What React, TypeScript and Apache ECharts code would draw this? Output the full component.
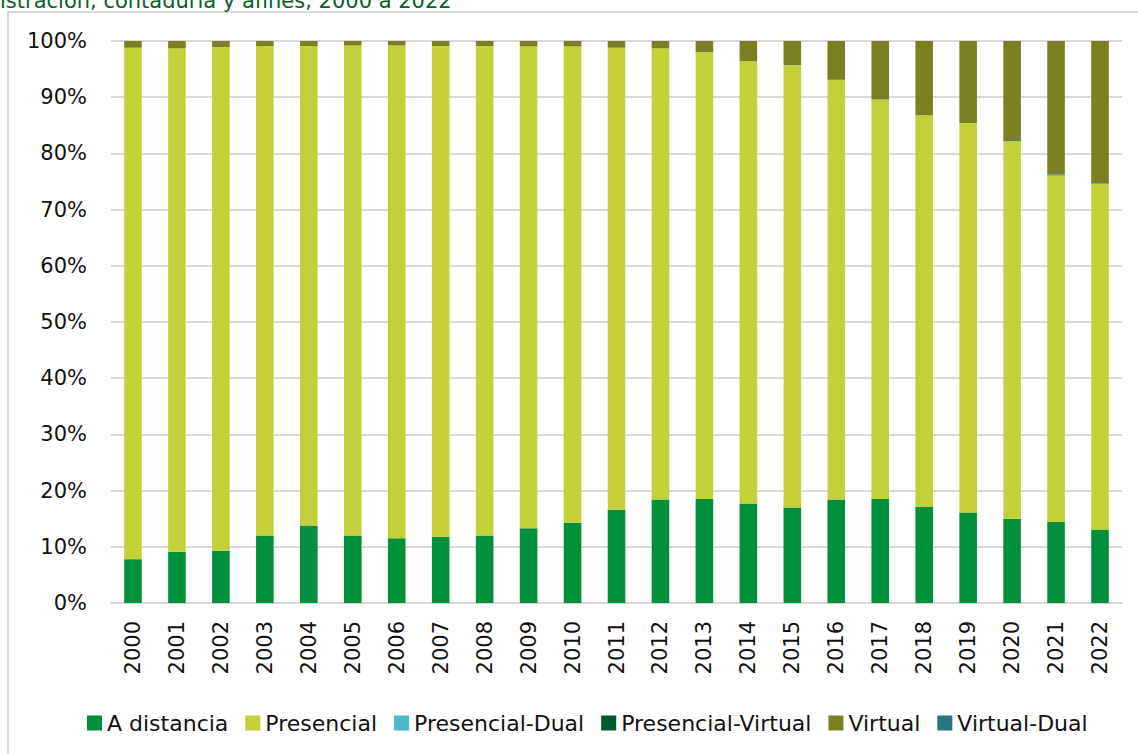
import React, { useEffect, useRef } from "react";
import * as echarts from "echarts";

const years = ["2000","2001","2002","2003","2004","2005","2006","2007","2008","2009","2010","2011","2012","2013","2014","2015","2016","2017","2018","2019","2020","2021","2022"];
const aDistancia = [7.8, 9.1, 9.3, 12.0, 13.8, 12.0, 11.5, 11.8, 12.0, 13.3, 14.3, 16.6, 18.4, 18.5, 17.7, 17.0, 18.4, 18.5, 17.1, 16.1, 15.0, 14.4, 13.1];
const virtual = [1.2, 1.3, 1.1, 0.9, 0.9, 0.8, 0.8, 0.9, 0.9, 0.95, 0.95, 1.2, 1.3, 2.0, 3.6, 4.3, 6.9, 10.4, 13.2, 14.6, 17.8, 23.8, 25.3];
const presencialDual = [0, 0, 0, 0, 0, 0, 0, 0, 0, 0, 0, 0, 0, 0, 0, 0, 0, 0, 0, 0, 0.1, 0.2, 0.15];
const presencialVirtual = [0, 0, 0, 0, 0, 0, 0, 0, 0, 0, 0, 0, 0, 0, 0, 0, 0, 0, 0, 0, 0, 0, 0];
const virtualDual = [0, 0, 0, 0, 0, 0, 0, 0, 0, 0, 0, 0, 0, 0, 0, 0, 0, 0, 0, 0, 0, 0, 0];
const presencial = years.map((_, i) =>
  +(100 - aDistancia[i] - virtual[i] - presencialDual[i] - presencialVirtual[i] - virtualDual[i]).toFixed(2)
);
const yTicks = ["0%","10%","20%","30%","40%","50%","60%","70%","80%","90%","100%"];

const seriesDefs = [
  { name: "A distancia", data: aDistancia, color: "#00903C" },
  { name: "Presencial", data: presencial, color: "#C3D03A" },
  { name: "Presencial-Dual", data: presencialDual, color: "#4BB7C8" },
  { name: "Presencial-Virtual", data: presencialVirtual, color: "#005A2B" },
  { name: "Virtual", data: virtual, color: "#7A8020" },
  { name: "Virtual-Dual", data: virtualDual, color: "#2A7580" },
];

const FONT = "DejaVu Sans";

export default function App() {
  const ref = useRef<HTMLDivElement>(null);
  useEffect(() => {
    if (!ref.current) return;
    const chart = echarts.init(ref.current, null, { renderer: "svg" });
    chart.setOption({
      animation: false,
      textStyle: { fontFamily: FONT },
      graphic: [
        {
          type: "rect",
          shape: { x: 8, y: 12, width: 1300, height: 900 },
          style: { fill: "none", stroke: "#d9d9d9", lineWidth: 2 },
          z: -1,
        },
        {
          type: "text",
          x: 0,
          y: 11,
          style: {
            text: "istración, contaduría y afines, 2000 a 2022",
            fill: "#0B5D2A",
            font: `21px ${FONT}`,
            verticalAlign: "bottom",
          },
        },
      ],
      grid: { left: 111, right: 16, top: 41, bottom: 151 },
      legend: {
        left: 82,
        top: 707,
        itemWidth: 15,
        itemHeight: 15,
        itemGap: 17,
        icon: "rect",
        textStyle: { fontSize: 22, color: "#111", fontFamily: FONT },
        data: seriesDefs.map((s) => s.name),
      },
      xAxis: {
        type: "category",
        data: years,
        axisLine: { lineStyle: { color: "#d9d9d9", width: 2 } },
        axisTick: { show: false },
        axisLabel: { rotate: 90, fontSize: 21, color: "#111", margin: 18, fontFamily: FONT },
      },
      yAxis: {
        type: "value",
        min: 0,
        max: 100,
        interval: 10,
        axisLine: { show: false },
        axisTick: { show: false },
        splitLine: { lineStyle: { color: "#d9d9d9", width: 2 } },
        axisLabel: {
          fontSize: 21,
          color: "#111",
          margin: 24,
          fontFamily: FONT,
          formatter: (v: number) => yTicks[Math.round(v / 10)],
        },
      },
      series: seriesDefs.map((s) => ({
        name: s.name,
        type: "bar",
        stack: "total",
        barWidth: "40%",
        data: s.data,
        itemStyle: { color: s.color },
      })),
    });
    return () => chart.dispose();
  }, []);
  return (
    <div
      ref={ref}
      style={{ position: "fixed", left: 0, top: 0, width: 1138, height: 754, background: "#fff" }}
    />
  );
}
